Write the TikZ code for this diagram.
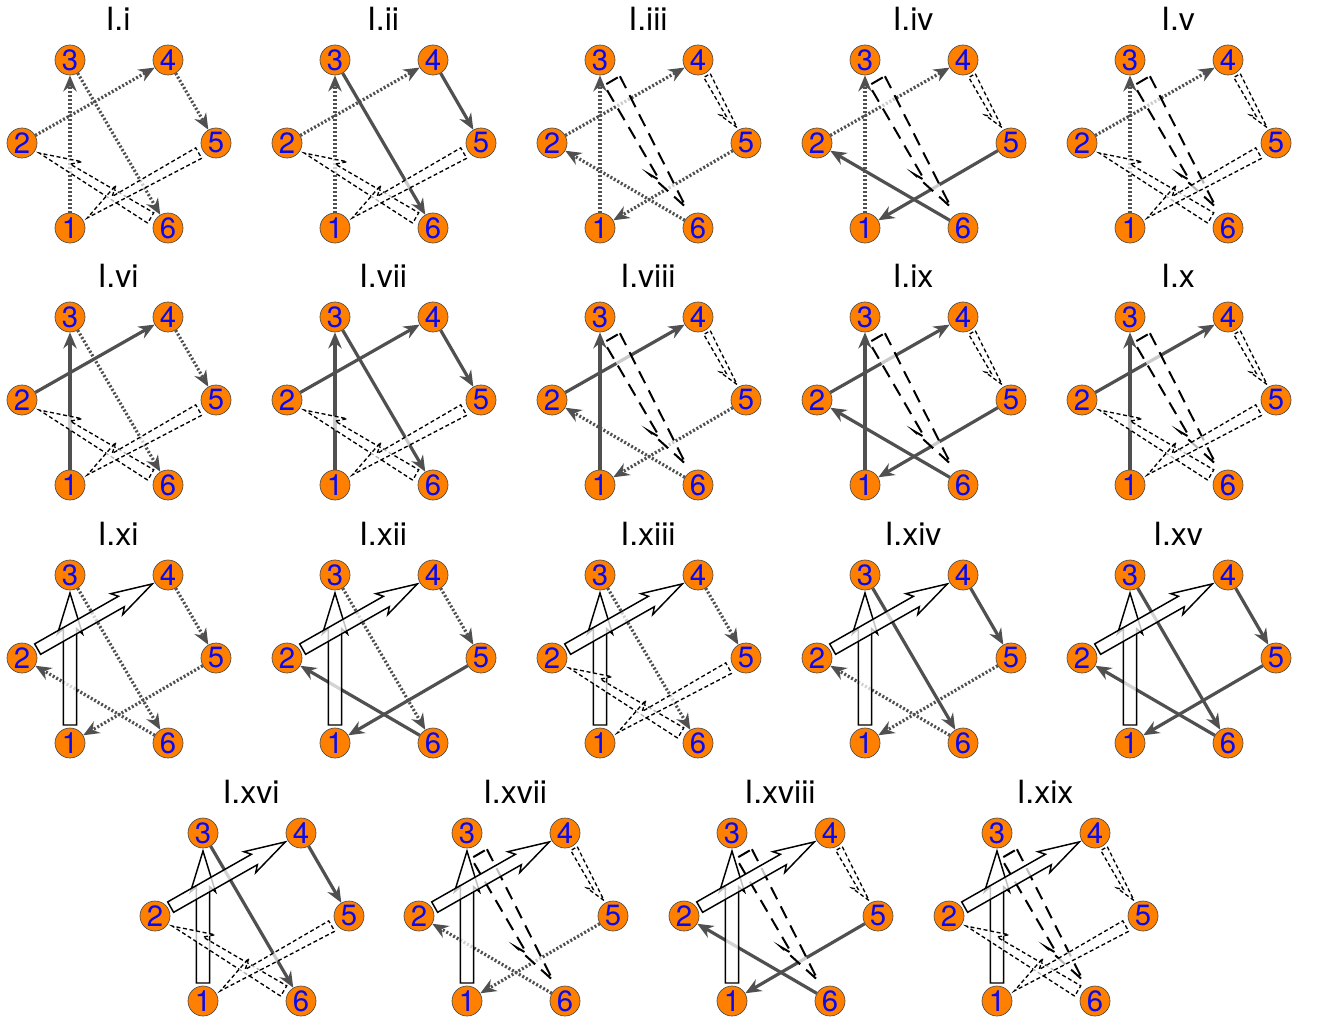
\documentclass[tikz,border=0pt]{standalone}
\usepackage{fontspec}
\setmainfont{TeX Gyre Heros}
\usetikzlibrary{arrows.meta,calc}
\definecolor{vorange}{RGB}{255,128,0}
\definecolor{vblue}{RGB}{10,10,240}
\definecolor{egray}{RGB}{80,80,80}
\newcommand\halfarr[6]{%
  \coordinate (T) at ($(#2.center)!#4!(#3.center)$);
  \coordinate (H) at ($(#3.center)!#4!(#2.center)$);
  \coordinate (B) at ($(T)!0.68!(H)$);
  \coordinate (N) at ($(T)!0.75!(H)$);
  \draw[#1] ($(T)!#5!90:(H)$) -- (H) -- ($(B)!#6!-90:(H)$) -- ($(N)!#5!-90:(H)$) -- ($(T)!#5!-90:(H)$) -- cycle;}
\newcommand\bigarr[5]{%
  \coordinate (T) at ($(#1.center)!#3!(#2.center)$);
  \coordinate (H) at ($(#2.center)!#3!(#1.center)$);
  \coordinate (B) at ($(T)!0.69!(H)$);
  \coordinate (N) at ($(T)!0.73!(H)$);
  \draw[bigh] ($(T)!#4!90:(H)$) -- ($(N)!#4!90:(H)$) -- ($(B)!#5!90:(H)$) -- (H) -- ($(B)!#5!-90:(H)$) -- ($(N)!#4!-90:(H)$) -- ($(T)!#4!-90:(H)$) -- cycle;}
\begin{document}
\begin{tikzpicture}[x=0.75pt,y=-0.75pt,
    vtx/.style={circle,draw=black!70,fill=vorange,line width=0.5pt,minimum size=22.5pt,inner sep=0pt,text=vblue,font=\fontsize{22}{22}\selectfont},
    ttl/.style={anchor=base,font=\fontsize{24}{24}\selectfont},
    dotarr/.style={egray,line width=2.4pt,dash pattern=on 1.5pt off 1.5pt,-{Stealth[length=12pt,width=10pt]}},
    solarr/.style={egray,line width=2.4pt,-{Stealth[length=12pt,width=10pt]}},
    thinh/.style={draw=black,line width=1pt,dash pattern=on 3pt off 2pt,fill=white,fill opacity=0.7},
    longh/.style={draw=black,line width=1.5pt,dash pattern=on 10pt off 6pt,fill=white,fill opacity=0.7},
    bigh/.style={draw=black,line width=1.1pt,fill=white,fill opacity=0.75}]
  \useasboundingbox (0,0) rectangle (1317,1021);
  \foreach \nm/\px/\py/\ta/\tb/\tc in {
      i/0/0/0/0/2, ii/265/0/0/1/2, iii/530/0/0/2/0, iv/795/0/0/2/1, v/1060/0/0/2/2,
      vi/0/257/1/0/2, vii/265/257/1/1/2, viii/530/257/1/2/0, ix/795/257/1/2/1, x/1060/257/1/2/2,
      xi/0/515/2/0/0, xii/265/515/2/0/1, xiii/530/515/2/0/2, xiv/795/515/2/1/0, xv/1060/515/2/1/1,
      xvi/133/773/2/1/2, xvii/397/773/2/2/0, xviii/662/773/2/2/1, xix/927/773/2/2/2}{
    \begin{scope}[shift={(\px,\py)}]
      \node[ttl] at (118,30) {I.\nm};
      \foreach \k/\x/\y in {1/70/228, 2/22/143, 3/70/60, 4/168/60, 5/216/143, 6/168/228}
        \node[vtx] (\nm-\k) at (\x,\y) {\k};
      \ifcase\ta\relax
        \draw[dotarr] (\nm-1) -- (\nm-3); \draw[dotarr] (\nm-2) -- (\nm-4);
      \or
        \draw[solarr] (\nm-1) -- (\nm-3); \draw[solarr] (\nm-2) -- (\nm-4);
      \fi
      \ifcase\tb\relax
        \draw[dotarr] (\nm-4) -- (\nm-5); \draw[dotarr] (\nm-3) -- (\nm-6);
      \or
        \draw[solarr] (\nm-4) -- (\nm-5); \draw[solarr] (\nm-3) -- (\nm-6);
      \fi
      \ifcase\tc\relax
        \draw[dotarr] (\nm-6) -- (\nm-2); \draw[dotarr] (\nm-5) -- (\nm-1);
      \or
        \draw[solarr] (\nm-6) -- (\nm-2); \draw[solarr] (\nm-5) -- (\nm-1);
      \fi
      \ifnum\tb=2
        \halfarr{thinh}{\nm-4}{\nm-5}{13.5pt}{2.8pt}{6.4pt}
        \halfarr{longh}{\nm-3}{\nm-6}{18pt}{6.8pt}{11.2pt}
      \fi
      \ifnum\ta=2
        \bigarr{\nm-1}{\nm-3}{13.5pt}{4.9pt}{9.4pt}
        \bigarr{\nm-2}{\nm-4}{13.5pt}{4.5pt}{9pt}
      \fi
      \ifnum\tc=2
        \halfarr{thinh}{\nm-6}{\nm-2}{15pt}{4.5pt}{10.5pt}
        \halfarr{thinh}{\nm-5}{\nm-1}{15pt}{4.5pt}{10.5pt}
      \fi
    \end{scope}
  }
\end{tikzpicture}
\end{document}
